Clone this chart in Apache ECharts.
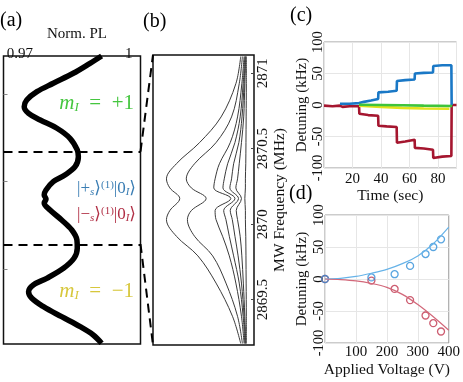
<!DOCTYPE html>
<html><head><meta charset="utf-8">
<script src="https://cdn.jsdelivr.net/npm/echarts@6/dist/echarts.min.js"></script>
<style>html,body{margin:0;padding:0;background:#fff}#c{width:463px;height:382px}</style>
</head><body><div id="c"></div>
<script>
// ---------- Panel (a): normalized PL vs MW detuning (MHz) ----------
const aDet = [2.873, 2.706, 2.478, 2.249, 2.057, 1.867, 1.714, 1.563, 1.410, 1.221, 0.992, 0.725, 0.571, 0.343, 0.153, 0,
  -0.190, -0.304, -0.395, -0.487, -0.647, -0.875, -1.104, -1.332, -1.522, -1.751, -1.979, -2.208, -2.361, -2.514,
  -2.665, -2.857, -3.086, -3.314, -3.504, -3.694];
const aPL = [0.9925, 0.9893, 0.9847, 0.9792, 0.9747, 0.9719, 0.9712, 0.9724, 0.9756, 0.9802, 0.9838, 0.9858, 0.9861,
  0.9852, 0.9824, 0.9792, 0.9772, 0.9767, 0.9772, 0.9767, 0.9783, 0.9815, 0.9843, 0.9857, 0.9858, 0.9849, 0.9820,
  0.9774, 0.9737, 0.9724, 0.9733, 0.9765, 0.9815, 0.9866, 0.9902, 0.9925];
const aTickLabels = [0.97, 1];
const aDashed = [0.69, -1.425];

// ---------- Panel (b): PL spectra vs MW frequency ----------
const bFreq = [2871.11, 2870.93, 2870.71, 2870.54, 2870.40, 2870.30, 2870.24, 2870.17, 2870.09, 2870.03, 2869.92, 2869.79, 2869.61, 2869.39, 2869.21];
const bCurve1 = [0.9969, 0.9943, 0.9864, 0.9749, 0.9625, 0.9572, 0.9590, 0.9643, 0.9590, 0.9572, 0.9625, 0.9740, 0.9837, 0.9925, 0.9969];
const bCurve2 = [0.9978, 0.9961, 0.9920, 0.9837, 0.9722, 0.9678, 0.9705, 0.9784, 0.9705, 0.9684, 0.9722, 0.9819, 0.9890, 0.9952, 0.9978];
const bCurve3 = [0.9987, 0.9975, 0.9952, 0.9913, 0.9855, 0.9832, 0.9825, 0.9916, 0.9832, 0.9837, 0.9872, 0.9908, 0.9943, 0.9973, 0.9987];
const bCurve4 = [0.9991, 0.9982, 0.9966, 0.9938, 0.9899, 0.9881, 0.9874, 0.9938, 0.9878, 0.9890, 0.9908, 0.9931, 0.9961, 0.9982, 0.9991];
const bCurve5 = [0.9994, 0.9987, 0.9976, 0.9959, 0.9931, 0.9920, 0.9911, 0.9957, 0.9913, 0.9924, 0.9938, 0.9955, 0.9973, 0.9987, 0.9994];
const bCurve6 = [0.9996, 0.9991, 0.9985, 0.9973, 0.9961, 0.9952, 0.9943, 0.9973, 0.9945, 0.9952, 0.9966, 0.9975, 0.9983, 0.9991, 0.9996];
const bCurve7 = [0.9999, 0.9999, 0.9998, 0.9997, 0.9996, 0.9994, 0.9994, 0.9991, 0.9994, 0.9994, 0.9996, 0.9997, 0.9998, 0.9999, 0.9999];
const bTicks = [2869.5, 2870, 2870.5, 2871];

// ---------- Panel (c): detuning vs time ----------
const cRedT = [0, 6, 11, 12, 13, 18, 24.6, 24.8, 31, 38, 38.2, 44, 51, 51.2, 57, 63.6, 63.8, 70, 76.5, 76.7, 83, 89.4, 89.6, 93];
const cRed  = [-1, -2, -1, 1, -3, -2, -2, -14, -16, -17, -33, -34, -35, -60, -58, -55, -68, -69, -71, -84, -82, -81, 0, 0];
const cBlueT = [11.2, 18, 24.6, 28, 33, 38, 38.2, 45, 51, 51.2, 57, 63.6, 63.8, 70, 76.5, 76.7, 83, 89.4, 89.6];
const cBlue  = [2, 2, 3, 5, 7, 9.5, 20, 21, 22.5, 38, 39.5, 40.5, 50, 51, 51.5, 62, 63, 63, 0];
const cYellowT = [24.6, 40, 55, 70, 88];
const cYellow  = [-1, -3, -4.5, -5.5, -6];
const cGreenT = [24.6, 40, 55, 70, 90];
const cGreen  = [0.5, 0, -0.5, -1, -1.5];

// ---------- Panel (d): detuning vs applied voltage ----------
const dV = [0, 150, 225, 275, 325, 350, 375];
const dBlueMeas = [0, 2.5, 7.5, 20.5, 39, 50, 62];
const dRedMeas  = [0, -2.5, -15.5, -33, -57, -69, -82];
const dFitV = [0, 50, 100, 150, 200, 250, 300, 350, 400];
const dBlueFit = [0, 1, 4, 9, 15, 24, 36, 55, 81];
const dRedFit  = [0, -1, -3, -7, -13, -24, -40, -59, -80];

const serif = '"Liberation Serif", "DejaVu Serif", serif';
const zip = (xs, ys) => xs.map((x, i) => [x, ys[i]]);
const chart = echarts.init(document.getElementById('c'));

const A = {xmin: 0.9655, xmax: 1.0032, ymin: -3.71, ymax: 2.873};
const B = {xmin: 0.95, xmax: 1.004, ymin: 2869.2, ymax: 2871.12};

const txt = {fontFamily: serif, color: '#111'};
const plain = v => String(v);
const bCurves = [bCurve1, bCurve2, bCurve3, bCurve4, bCurve5, bCurve6, bCurve7];

const option = {
  animation: false,
  grid: [
    {left: 3.5, top: 56, width: 137, height: 288, show: true, borderColor: '#111', borderWidth: 1.5},
    {left: 153, top: 55, width: 101, height: 290, show: true, borderColor: '#111', borderWidth: 1.5},
    {left: 324, top: 42, width: 132.5, height: 126, show: true, borderColor: '#999', borderWidth: 1},
    {left: 325, top: 215, width: 130, height: 128, show: true, borderColor: '#999', borderWidth: 1}
  ],
  xAxis: [
    {gridIndex: 0, type: 'value', position: 'top', min: A.xmin, max: A.xmax,
     axisLine: {show: false}, axisTick: {show: false}, splitLine: {show: false},
     axisLabel: {customValues: aTickLabels, formatter: plain, margin: 9, verticalAlign: 'top', fontSize: 15, ...txt}},
    {gridIndex: 1, type: 'value', min: B.xmin, max: B.xmax, show: false},
    {gridIndex: 2, type: 'value', min: 0, max: 93, interval: 20,
     axisLine: {show: false}, axisTick: {show: false},
     splitLine: {show: true, lineStyle: {color: '#e6e6e6', width: 1}},
     axisLabel: {showMinLabel: false, showMaxLabel: false, margin: 4, fontSize: 15, ...txt},
     name: 'Time (sec)', nameLocation: 'middle', nameGap: 20,
     nameTextStyle: {fontSize: 15.5, ...txt}},
    {gridIndex: 3, type: 'value', min: 0, max: 400, interval: 100,
     axisLine: {show: false}, axisTick: {show: false},
     splitLine: {show: true, lineStyle: {color: '#e6e6e6', width: 1}},
     axisLabel: {showMinLabel: false, margin: 2, fontSize: 15, ...txt},
     name: 'Applied Voltage (V)', nameLocation: 'middle', nameGap: 19,
     nameTextStyle: {fontSize: 15.5, ...txt}}
  ],
  yAxis: [
    {gridIndex: 0, type: 'value', min: A.ymin, max: A.ymax,
     axisLine: {show: false}, splitLine: {show: false}, axisLabel: {show: false},
     axisTick: {show: true, inside: true, length: 4, customValues: [-2, 0, 2], lineStyle: {color: '#888'}}},
    {gridIndex: 1, type: 'value', position: 'right', min: B.ymin, max: B.ymax,
     axisLine: {show: false}, splitLine: {show: false},
     axisTick: {show: true, inside: true, length: 3, customValues: bTicks, lineStyle: {color: '#444'}},
     axisLabel: {customValues: bTicks, formatter: plain, rotate: 90, margin: 2, fontSize: 15, ...txt},
     name: 'MW Frequency (MHz)', nameLocation: 'middle', nameGap: 15,
     nameTextStyle: {fontSize: 15.5, ...txt}},
    {gridIndex: 2, type: 'value', min: -100, max: 100, interval: 50,
     axisLine: {show: false}, axisTick: {show: false},
     splitLine: {show: true, lineStyle: {color: '#e6e6e6', width: 1}},
     axisLabel: {rotate: 90, margin: -2, fontSize: 14.5, ...txt}},
    {gridIndex: 3, type: 'value', min: -100, max: 100, interval: 50,
     axisLine: {show: false}, axisTick: {show: false},
     splitLine: {show: true, lineStyle: {color: '#e6e6e6', width: 1}},
     axisLabel: {rotate: 90, margin: -2, fontSize: 14.5, ...txt}}
  ],
  series: [
    {type: 'line', xAxisIndex: 0, yAxisIndex: 0, data: zip(aPL, aDet), smooth: 0.35, symbol: 'none',
     lineStyle: {color: '#000', width: 5.5}, z: 3,
     markLine: {silent: true, symbol: ['none', 'none'], label: {show: false},
       lineStyle: {color: '#000', width: 2, type: [9, 6]},
       data: aDashed.map(v => ({yAxis: v}))}},
    ...bCurves.map(cv => ({type: 'line', xAxisIndex: 1, yAxisIndex: 1, data: zip(cv, bFreq), smooth: 0.35,
      symbol: 'none', lineStyle: {color: '#3a3a3a', width: 1}})),
    {type: 'line', xAxisIndex: 2, yAxisIndex: 2, data: zip(cRedT, cRed), symbol: 'none', lineStyle: {color: '#a5162f', width: 2.6}},
    {type: 'line', xAxisIndex: 2, yAxisIndex: 2, data: zip(cBlueT, cBlue), symbol: 'none', lineStyle: {color: '#1a78c6', width: 2.6}},
    {type: 'line', xAxisIndex: 2, yAxisIndex: 2, data: zip(cYellowT, cYellow), symbol: 'none', lineStyle: {color: '#e3e21d', width: 2.6}},
    {type: 'line', xAxisIndex: 2, yAxisIndex: 2, data: zip(cGreenT, cGreen), symbol: 'none', lineStyle: {color: '#3fc43a', width: 2.6}},
    {type: 'line', xAxisIndex: 3, yAxisIndex: 3, data: zip(dFitV, dBlueFit), smooth: 0.3, symbol: 'none', lineStyle: {color: '#67b3e8', width: 1.2}},
    {type: 'line', xAxisIndex: 3, yAxisIndex: 3, data: zip(dFitV, dRedFit), smooth: 0.3, symbol: 'none', lineStyle: {color: '#d2687a', width: 1.2}},
    {type: 'scatter', xAxisIndex: 3, yAxisIndex: 3, data: zip(dV, dRedMeas), symbol: 'circle', symbolSize: 7,
     itemStyle: {color: 'rgba(0,0,0,0)', borderColor: '#c0354e', borderWidth: 1.3}},
    {type: 'scatter', xAxisIndex: 3, yAxisIndex: 3, data: zip(dV, dBlueMeas), symbol: 'circle', symbolSize: 7,
     itemStyle: {color: 'rgba(0,0,0,0)', borderColor: '#2f8fd8', borderWidth: 1.3}}
  ]
};
chart.setOption(option);

// connecting dashed lines from (a) to (b), located through the axes
const pa1 = chart.convertToPixel({xAxisIndex: 0, yAxisIndex: 0}, [A.xmax, aDashed[0]]);
const pa2 = chart.convertToPixel({xAxisIndex: 0, yAxisIndex: 0}, [A.xmax, aDashed[1]]);
const pb1 = chart.convertToPixel({xAxisIndex: 1, yAxisIndex: 1}, [B.xmin, B.ymax]);
const pb2 = chart.convertToPixel({xAxisIndex: 1, yAxisIndex: 1}, [B.xmin, B.ymin]);
const dash = {stroke: '#000', lineWidth: 2, lineDash: [9, 6]};

const mRich = {
  m: {fontFamily: serif, fontStyle: 'italic', fontSize: 21, lineHeight: 22},
  s: {fontFamily: serif, fontStyle: 'italic', fontSize: 13, lineHeight: 8, verticalAlign: 'bottom'},
  t: {fontFamily: serif, fontSize: 21, lineHeight: 22}
};
const kRich = {
  t: {fontFamily: serif, fontSize: 17, lineHeight: 18},
  s: {fontFamily: serif, fontStyle: 'italic', fontSize: 11, lineHeight: 7, verticalAlign: 'bottom'},
  p: {fontFamily: serif, fontSize: 11, lineHeight: 10, verticalAlign: 'top'}
};
function richFor(rich, color) {
  const r = {};
  for (const k in rich) r[k] = Object.assign({}, rich[k], {fill: color});
  return r;
}
const panelFont = '20px "Liberation Serif", serif';
const titleFont = '15px "Liberation Serif", serif';
chart.setOption({
  graphic: [
    {type: 'line', shape: {x1: pa1[0], y1: pa1[1], x2: pb1[0], y2: pb1[1]}, style: dash},
    {type: 'line', shape: {x1: pa2[0], y1: pa2[1], x2: pb2[0], y2: pb2[1]}, style: dash},
    {type: 'text', left: 0, top: 11, style: {text: '(a)', font: panelFont, fill: '#000'}},
    {type: 'text', left: 143, top: 12, style: {text: '(b)', font: panelFont, fill: '#000'}},
    {type: 'text', left: 290, top: 6, style: {text: '(c)', font: panelFont, fill: '#000'}},
    {type: 'text', left: 289, top: 184, style: {text: '(d)', font: panelFont, fill: '#000'}},
    {type: 'text', x: 77, y: 34, style: {text: 'Norm. PL', font: titleFont, fill: '#111', align: 'center', verticalAlign: 'middle'}},
    {type: 'text', x: 302, y: 105, rotation: Math.PI / 2, style: {text: 'Detuning (kHz)', font: titleFont, fill: '#111', align: 'center', verticalAlign: 'middle'}},
    {type: 'text', x: 302, y: 279, rotation: Math.PI / 2, style: {text: 'Detuning (kHz)', font: titleFont, fill: '#111', align: 'center', verticalAlign: 'middle'}},
    {type: 'text', x: 134, y: 103, style: {text: '{m|m}{s|I}{t|\u2002=\u2002+1}', align: 'right', verticalAlign: 'middle',
      rich: richFor(mRich, '#45c63f')}},
    {type: 'text', x: 134, y: 291, style: {text: '{m|m}{s|I}{t|\u2002=\u2002\u22121}', align: 'right', verticalAlign: 'middle',
      rich: richFor(mRich, '#d7c73c')}},
    {type: 'text', x: 136, y: 189, style: {text: '{t||+}{s|s}{t|\u27E9}{p|(1)}{t||0}{s|I}{t|\u27E9}', align: 'right', verticalAlign: 'middle',
      rich: richFor(kRich, '#3a7db3')}},
    {type: 'text', x: 136, y: 215, style: {text: '{t||\u2212}{s|s}{t|\u27E9}{p|(1)}{t||0}{s|I}{t|\u27E9}', align: 'right', verticalAlign: 'middle',
      rich: richFor(kRich, '#b12f45')}}
  ]
});
</script>
</body></html>
